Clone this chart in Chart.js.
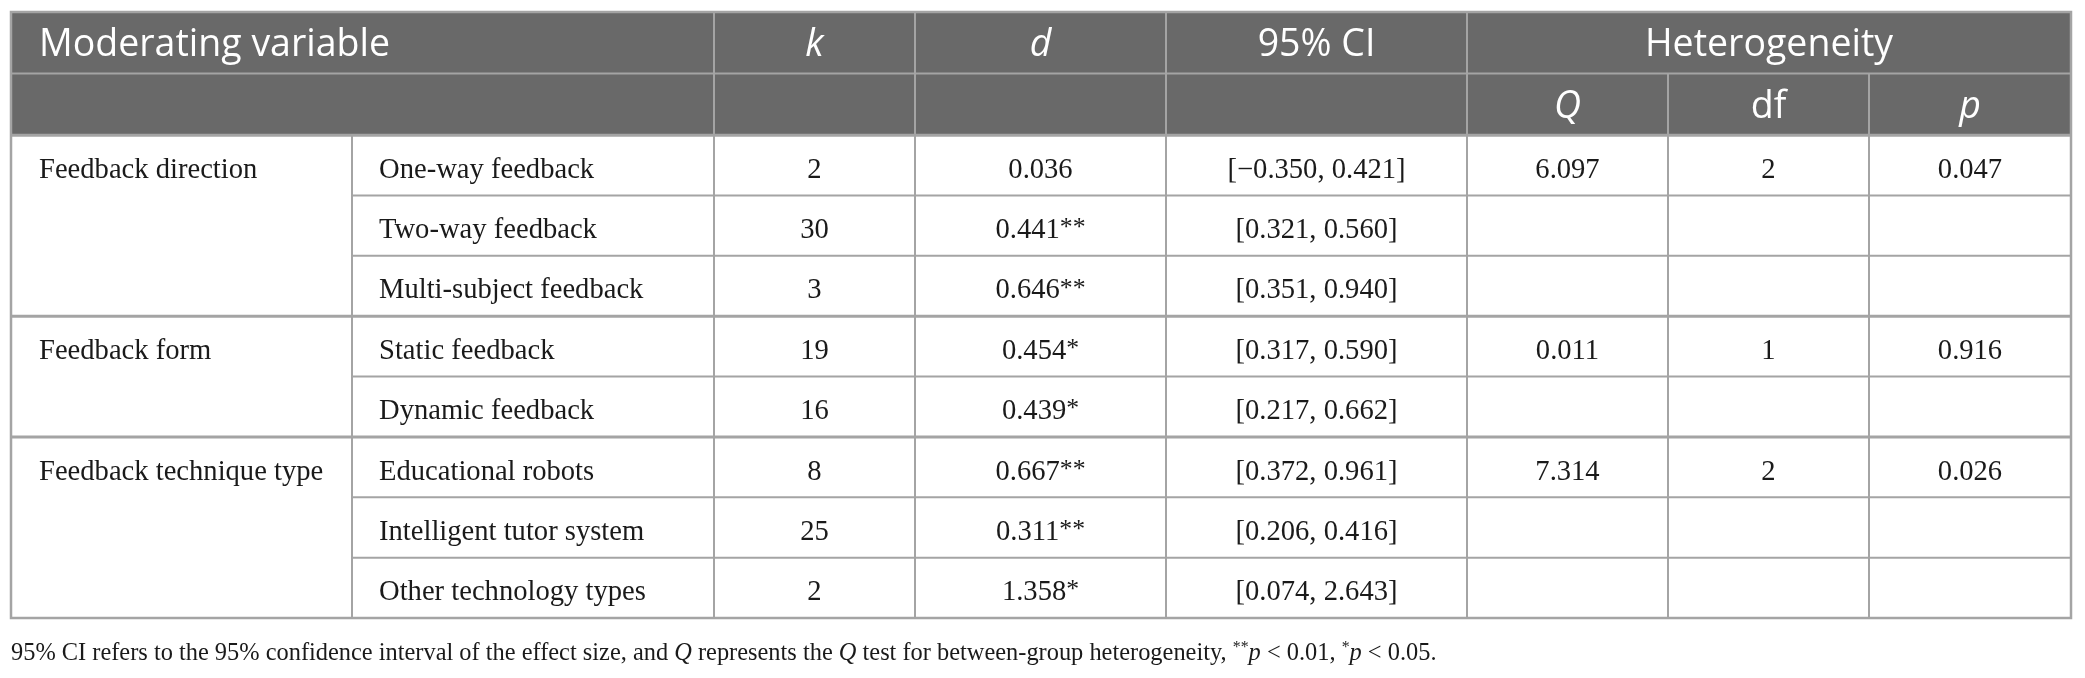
<!DOCTYPE html>
<html lang="en">
<head>
<meta charset="UTF-8">
<title>Moderator analysis of feedback effects</title>
<script src="https://cdn.jsdelivr.net/npm/chart.js"></script>
<style>
  html, body { margin: 0; padding: 0; background: #fff; }
  #wrap { width: 2085px; height: 678px; }
</style>
</head>
<body>
<div id="wrap"><canvas id="tableChart" width="2085" height="678"></canvas></div>
<script>
// table content
const groups = ["Feedback direction", "Feedback form", "Feedback technique type"];
const groupSizes = [3, 2, 3];
const subgroups = ["One-way feedback", "Two-way feedback", "Multi-subject feedback",
  "Static feedback", "Dynamic feedback",
  "Educational robots", "Intelligent tutor system", "Other technology types"];
const kValues = [2, 30, 3, 19, 16, 8, 25, 2];
const dValues = [0.036, 0.441, 0.646, 0.454, 0.439, 0.667, 0.311, 1.358];
const dStars = ["", "**", "**", "*", "*", "**", "**", "*"];
const ciLow = [-0.350, 0.321, 0.351, 0.317, 0.217, 0.372, 0.206, 0.074];
const ciHigh = [0.421, 0.560, 0.940, 0.590, 0.662, 0.961, 0.416, 2.643];
const qValues = [6.097, 0.011, 7.314];
const dfValues = [2, 1, 2];
const pValues = [0.047, 0.916, 0.026];

// layout: column widths and row heights in scale units
const colWidths = [341, 362, 201, 251, 301, 201, 201, 202];
const rowHeights = [1.02, 1.02, 1, 1, 1, 1, 1, 1, 1, 1];
const colEdges = colWidths.reduce((a, w) => a.concat(a[a.length - 1] + w), [0]);
const rowEdges = rowHeights.reduce((a, h) => a.concat(a[a.length - 1] + h), [0]);

const HEAD_BG = "#696969";
const RULE = "#a4a4a4";
const SANS = "'Open Sans', 'Noto Sans', sans-serif";
const SERIF = "'Liberation Serif', 'DejaVu Serif', serif";

function fmt(v) {
  const s = Math.abs(v).toFixed(3);
  return v < 0 ? "\u2212" + s : s;
}

// text runs [{t, italic, sup, star}]
function runFont(r, size, family) {
  const fs = r.sup ? size * 0.65 : r.star ? size * 0.9 : size;
  return (r.italic ? "italic " : "") + fs + "px " + family;
}
function runsWidth(ctx, runs, size, family) {
  let w = 0;
  runs.forEach(r => {
    ctx.font = runFont(r, size, family);
    w += ctx.measureText(r.t).width;
  });
  return w;
}
function drawRuns(ctx, runs, x, y, size, family) {
  runs.forEach(r => {
    ctx.font = runFont(r, size, family);
    const lift = r.sup ? size * 0.33 : r.star ? size * 0.1 : 0;
    ctx.fillText(r.t, x, y - lift);
    x += ctx.measureText(r.t).width;
  });
}

const tablePlugin = {
  id: "tableDraw",
  afterDraw(chart) {
    const ctx = chart.ctx;
    const sx = chart.scales.x, sy = chart.scales.y;
    const cx = i => sx.getPixelForValue(colEdges[i]);
    const ry = j => sy.getPixelForValue(rowEdges[j]);
    const colMid = (a, b) => (cx(a) + cx(b)) / 2;
    const rowMid = j => (ry(j) + ry(j + 1)) / 2;

    ctx.save();
    // header band
    ctx.fillStyle = HEAD_BG;
    ctx.fillRect(cx(0), ry(0), cx(8) - cx(0), ry(2) - ry(0));

    function hline(x1, x2, y, w) {
      ctx.lineWidth = w || 2;
      ctx.beginPath(); ctx.moveTo(x1, y); ctx.lineTo(x2, y); ctx.stroke();
    }
    function vline(x, y1, y2, w) {
      ctx.lineWidth = w || 2;
      ctx.beginPath(); ctx.moveTo(x, y1); ctx.lineTo(x, y2); ctx.stroke();
    }
    ctx.strokeStyle = RULE;
    // header rules
    hline(cx(0), cx(8), ry(1));
    hline(cx(0), cx(8), ry(2), 3);
    [2, 3, 4, 5].forEach(i => vline(cx(i), ry(0), ry(2)));
    [6, 7].forEach(i => vline(cx(i), ry(1), ry(2)));
    // body rules
    [1, 2, 3, 4, 5, 6, 7].forEach(i => vline(cx(i), ry(2), ry(10)));
    const groupStarts = [];
    let acc = 0;
    groupSizes.forEach(n => { groupStarts.push(acc); acc += n; });
    for (let r = 1; r < subgroups.length; r++) {
      const y = ry(r + 2);
      if (groupStarts.includes(r)) hline(cx(0), cx(8), y, 3);
      else hline(cx(1), cx(8), y, 2);
    }
    // outer frame
    ctx.lineWidth = 2.5;
    ctx.strokeRect(cx(0), ry(0), cx(8) - cx(0), ry(10) - ry(0));

    // header text
    ctx.fillStyle = "#ffffff";
    ctx.textBaseline = "middle";
    const hs = 37.5;
    const hy = j => rowMid(j) + 3;
    ctx.textAlign = "left";
    ctx.font = hs + "px " + SANS;
    ctx.fillText("Moderating variable", cx(0) + 28, hy(0));
    ctx.textAlign = "center";
    ctx.font = "italic " + hs + "px " + SANS;
    ctx.fillText("k", colMid(2, 3), hy(0));
    ctx.fillText("d", colMid(3, 4), hy(0));
    ctx.font = hs + "px " + SANS;
    ctx.fillText("95% CI", colMid(4, 5), hy(0));
    ctx.fillText("Heterogeneity", colMid(5, 8), hy(0));
    ctx.font = "italic " + hs + "px " + SANS;
    ctx.fillText("Q", colMid(5, 6), hy(1));
    ctx.fillText("p", colMid(7, 8), hy(1));
    ctx.font = hs + "px " + SANS;
    ctx.fillText("df", colMid(6, 7), hy(1));

    // body text
    const bs = 28.6;
    ctx.fillStyle = "#1a1a1a";
    ctx.textBaseline = "alphabetic";
    const base = j => rowMid(j) + bs * 0.33 + 3;
    groups.forEach((g, gi) => {
      const r = groupStarts[gi];
      ctx.textAlign = "left";
      ctx.font = bs + "px " + SERIF;
      ctx.fillText(g, cx(0) + 28, base(r + 2));
      ctx.textAlign = "center";
      ctx.fillText(qValues[gi].toFixed(3), colMid(5, 6), base(r + 2));
      ctx.fillText(String(dfValues[gi]), colMid(6, 7), base(r + 2));
      ctx.fillText(pValues[gi].toFixed(3), colMid(7, 8), base(r + 2));
    });
    subgroups.forEach((s, r) => {
      const y = base(r + 2);
      ctx.font = bs + "px " + SERIF;
      ctx.textAlign = "left";
      ctx.fillText(s, cx(1) + 27, y);
      ctx.textAlign = "center";
      ctx.fillText(String(kValues[r]), colMid(2, 3), y);
      ctx.fillText("[" + fmt(ciLow[r]) + ", " + fmt(ciHigh[r]) + "]", colMid(4, 5), y);
      const runs = [{ t: fmt(dValues[r]) }];
      if (dStars[r]) runs.push({ t: dStars[r], star: true });
      ctx.textAlign = "left";
      const w = runsWidth(ctx, runs, bs, SERIF);
      drawRuns(ctx, runs, colMid(3, 4) - w / 2, y, bs, SERIF);
    });

    // footnote
    const note = [
      { t: "95% CI refers to the 95% confidence interval of the effect size, and " },
      { t: "Q", italic: true },
      { t: " represents the " },
      { t: "Q", italic: true },
      { t: " test for between-group heterogeneity, " },
      { t: "**", sup: true },
      { t: "p", italic: true },
      { t: " < 0.01, " },
      { t: "*", sup: true },
      { t: "p", italic: true },
      { t: " < 0.05." }
    ];
    ctx.textAlign = "left";
    ctx.fillStyle = "#1a1a1a";
    drawRuns(ctx, note, cx(0), ry(10) + 42, 24.4, SERIF);
    ctx.restore();
  }
};

new Chart(document.getElementById("tableChart"), {
  type: "scatter",
  data: { datasets: [] },
  options: {
    responsive: false,
    devicePixelRatio: 1,
    animation: false,
    layout: { padding: { left: 11, top: 12, right: 14, bottom: 60 } },
    plugins: { legend: { display: false }, tooltip: { enabled: false } },
    scales: {
      x: { type: "linear", display: false, min: 0, max: colEdges[colEdges.length - 1] },
      y: { type: "linear", display: false, min: 0, max: rowEdges[rowEdges.length - 1], reverse: true }
    }
  },
  plugins: [tablePlugin]
});
</script>
</body>
</html>
